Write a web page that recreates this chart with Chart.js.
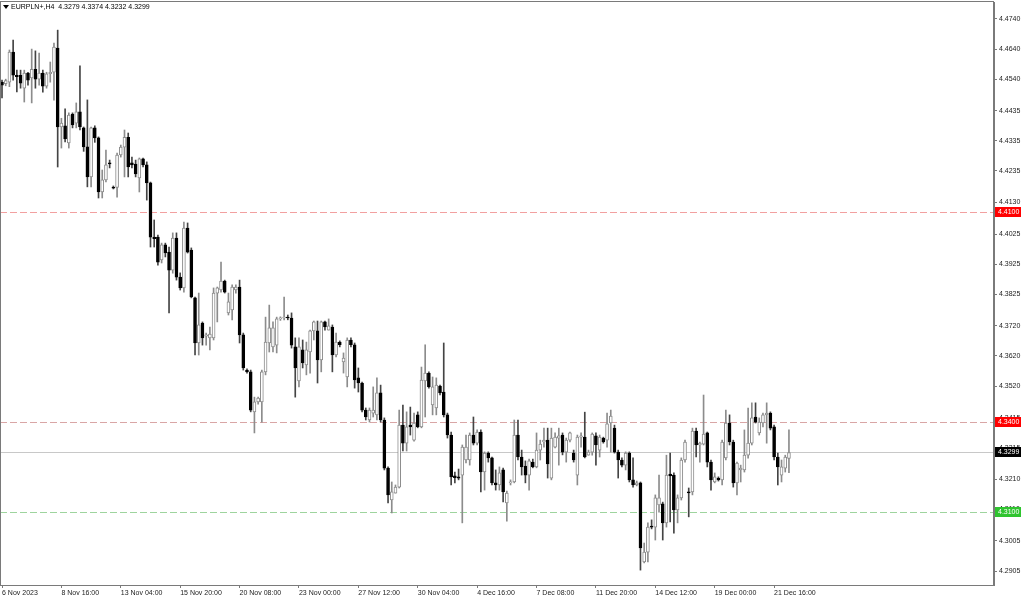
<!DOCTYPE html>
<html lang="en">
<head>
<meta charset="UTF-8" />
<title>EURPLN+,H4</title>
<style>
  html, body { margin: 0; padding: 0; background: #fff; }
  #wrap { width: 1024px; height: 599px; }
</style>
</head>
<body>
<div id="wrap"><canvas id="chart" width="1024" height="599"></canvas></div>

<script src="https://cdn.jsdelivr.net/npm/chart.js@4"></script>
<script>
// EURPLN+ H4 candles (oldest first)
const opens = [
  4.4530, 4.4525, 4.4530, 4.4630, 4.4553, 4.4553, 4.4510, 4.4560, 4.4544, 4.4573,
  4.4540, 4.4560, 4.4517, 4.4558, 4.4563, 4.4643, 4.4381, 4.4385, 4.4328, 4.4424,
  4.4394, 4.4431, 4.4378, 4.4315, 4.4215, 4.4378, 4.4345, 4.4165, 4.4205, 4.4262,
  4.4180, 4.4180, 4.4288, 4.4314, 4.4347, 4.4262, 4.4258, 4.4212, 4.4275, 4.4255,
  4.4195, 4.4015, 4.4015, 4.3939, 4.3989, 4.3965, 4.3905, 4.4012, 4.3882, 4.3846,
  4.4045, 4.3972, 4.3813, 4.3663, 4.3729, 4.3686, 4.3680, 4.3680, 4.3829, 4.3839,
  4.3869, 4.3763, 4.3773, 4.3839, 4.3849, 4.3690, 4.3573, 4.3567, 4.3434, 4.3467,
  4.3467, 4.3567, 4.3663, 4.3650, 4.3656, 4.3743, 4.3746, 4.3749, 4.3746, 4.3650,
  4.3537, 4.3640, 4.3590, 4.3633, 4.3703, 4.3703, 4.3607, 4.3733, 4.3706, 4.3716,
  4.3623, 4.3666, 4.3600, 4.3550, 4.3673, 4.3657, 4.3547, 4.3530, 4.3440, 4.3407,
  4.3430, 4.3424, 4.3497, 4.3407, 4.3247, 4.3141, 4.3164, 4.3184, 4.3390, 4.3330,
  4.3390, 4.3340, 4.3424, 4.3384, 4.3537, 4.3563, 4.3457, 4.3447, 4.3520, 4.3500,
  4.3424, 4.3357, 4.3221, 4.3218, 4.3224, 4.3274, 4.3274, 4.3357, 4.3330, 4.3367,
  4.3234, 4.3297, 4.3281, 4.3198, 4.3191, 4.3241, 4.3131, 4.3198, 4.3201, 4.3357,
  4.3284, 4.3254, 4.3224, 4.3267, 4.3251, 4.3307, 4.3334, 4.3340, 4.3214, 4.3317,
  4.3347, 4.3357, 4.3300, 4.3340, 4.3297, 4.3224, 4.3350, 4.3350, 4.3290, 4.3300,
  4.3354, 4.3307, 4.3347, 4.3340, 4.3397, 4.3380, 4.3300, 4.3274, 4.3257, 4.3297,
  4.3208, 4.3191, 4.3198, 4.2935, 4.2968, 4.3054, 4.3051, 4.3125, 4.3128, 4.3065,
  4.3227, 4.3224, 4.3108, 4.3148, 4.3274, 4.3168, 4.3168, 4.3370, 4.3324, 4.3327,
  4.3364, 4.3267, 4.3201, 4.3214, 4.3208, 4.3281, 4.3397, 4.3334, 4.3198, 4.3241,
  4.3241, 4.3290, 4.3330, 4.3417, 4.3364, 4.3397, 4.3424, 4.3430, 4.3384, 4.3284,
  4.3224, 4.3247, 4.3279
];
const highs = [
  4.4537, 4.4540, 4.4637, 4.4670, 4.4570, 4.4570, 4.4570, 4.4563, 4.4640, 4.4634,
  4.4627, 4.4570, 4.4563, 4.4597, 4.4660, 4.4703, 4.4410, 4.4441, 4.4428, 4.4428,
  4.4461, 4.4584, 4.4381, 4.4471, 4.4381, 4.4385, 4.4348, 4.4238, 4.4304, 4.4271,
  4.4185, 4.4294, 4.4321, 4.4371, 4.4361, 4.4281, 4.4271, 4.4278, 4.4278, 4.4265,
  4.4198, 4.4072, 4.4022, 4.3995, 4.3995, 4.3982, 4.4029, 4.4029, 4.3896, 4.4065,
  4.4062, 4.3979, 4.3816, 4.3829, 4.3733, 4.3696, 4.3716, 4.3846, 4.3849, 4.3932,
  4.3872, 4.3829, 4.3856, 4.3856, 4.3872, 4.3696, 4.3577, 4.3573, 4.3483, 4.3483,
  4.3573, 4.3749, 4.3789, 4.3733, 4.3749, 4.3750, 4.3816, 4.3756, 4.3763, 4.3680,
  4.3680, 4.3673, 4.3666, 4.3706, 4.3736, 4.3736, 4.3736, 4.3736, 4.3743, 4.3723,
  4.3696, 4.3670, 4.3630, 4.3680, 4.3680, 4.3663, 4.3580, 4.3533, 4.3447, 4.3447,
  4.3517, 4.3547, 4.3523, 4.3414, 4.3251, 4.3201, 4.3191, 4.3440, 4.3457, 4.3434,
  4.3450, 4.3430, 4.3434, 4.3583, 4.3657, 4.3567, 4.3550, 4.3547, 4.3523, 4.3663,
  4.3430, 4.3367, 4.3234, 4.3244, 4.3324, 4.3357, 4.3364, 4.3417, 4.3374, 4.3374,
  4.3301, 4.3301, 4.3284, 4.3241, 4.3251, 4.3247, 4.3171, 4.3208, 4.3407, 4.3407,
  4.3307, 4.3271, 4.3277, 4.3277, 4.3364, 4.3340, 4.3380, 4.3380, 4.3380, 4.3364,
  4.3380, 4.3364, 4.3347, 4.3367, 4.3307, 4.3357, 4.3364, 4.3433, 4.3307, 4.3364,
  4.3364, 4.3357, 4.3350, 4.3430, 4.3440, 4.3390, 4.3307, 4.3281, 4.3301, 4.3301,
  4.3281, 4.3204, 4.3201, 4.2998, 4.3065, 4.3075, 4.3158, 4.3224, 4.3134, 4.3290,
  4.3297, 4.3231, 4.3158, 4.3281, 4.3340, 4.3181, 4.3380, 4.3380, 4.3334, 4.3490,
  4.3367, 4.3274, 4.3231, 4.3218, 4.3340, 4.3440, 4.3424, 4.3340, 4.3267, 4.3257,
  4.3374, 4.3447, 4.3464, 4.3464, 4.3414, 4.3430, 4.3464, 4.3434, 4.3390, 4.3297,
  4.3274, 4.3290, 4.3374
];
const lows = [
  4.4478, 4.4518, 4.4515, 4.4537, 4.4498, 4.4510, 4.4464, 4.4520, 4.4461, 4.4510,
  4.4520, 4.4497, 4.4510, 4.4530, 4.4470, 4.4248, 4.4311, 4.4331, 4.4311, 4.4378,
  4.4378, 4.4371, 4.4300, 4.4182, 4.4182, 4.4330, 4.4145, 4.4145, 4.4198, 4.4245,
  4.4175, 4.4148, 4.4281, 4.4215, 4.4215, 4.4245, 4.4215, 4.4165, 4.4248, 4.4138,
  4.3982, 4.3982, 4.3922, 4.3929, 4.3949, 4.3763, 4.3895, 4.3872, 4.3839, 4.3832,
  4.3962, 4.3813, 4.3623, 4.3623, 4.3656, 4.3656, 4.3640, 4.3673, 4.3733, 4.3832,
  4.3829, 4.3756, 4.3740, 4.3829, 4.3663, 4.3573, 4.3563, 4.3434, 4.3364, 4.3460,
  4.3400, 4.3557, 4.3633, 4.3633, 4.3630, 4.3738, 4.3740, 4.3740, 4.3646, 4.3483,
  4.3517, 4.3580, 4.3557, 4.3563, 4.3673, 4.3530, 4.3567, 4.3706, 4.3706, 4.3567,
  4.3617, 4.3650, 4.3563, 4.3517, 4.3650, 4.3513, 4.3500, 4.3434, 4.3407, 4.3400,
  4.3417, 4.3407, 4.3400, 4.3241, 4.3131, 4.3098, 4.3164, 4.3181, 4.3304, 4.3304,
  4.3357, 4.3337, 4.3381, 4.3381, 4.3417, 4.3513, 4.3424, 4.3424, 4.3490, 4.3417,
  4.3347, 4.3191, 4.3198, 4.3208, 4.3065, 4.3264, 4.3257, 4.3324, 4.3324, 4.3168,
  4.3174, 4.3267, 4.3191, 4.3174, 4.3174, 4.3135, 4.3071, 4.3191, 4.3198, 4.3274,
  4.3224, 4.3198, 4.3174, 4.3248, 4.3248, 4.3274, 4.3317, 4.3214, 4.3208, 4.3314,
  4.3257, 4.3291, 4.3267, 4.3334, 4.3267, 4.3191, 4.3317, 4.3281, 4.3290, 4.3290,
  4.3257, 4.3284, 4.3330, 4.3317, 4.3300, 4.3297, 4.3214, 4.3251, 4.3241, 4.3201,
  4.3184, 4.3188, 4.2908, 4.2932, 4.2935, 4.3045, 4.3008, 4.3101, 4.3008, 4.3051,
  4.3068, 4.3031, 4.3065, 4.3141, 4.3267, 4.3085, 4.3158, 4.3284, 4.3267, 4.3324,
  4.3251, 4.3174, 4.3198, 4.3204, 4.3191, 4.3274, 4.3324, 4.3184, 4.3158, 4.3201,
  4.3234, 4.3280, 4.3324, 4.3397, 4.3357, 4.3384, 4.3330, 4.3374, 4.3274, 4.3191,
  4.3201, 4.3234, 4.3232
];
const closes = [
  4.4520, 4.4535, 4.4630, 4.4553, 4.4548, 4.4527, 4.4560, 4.4537, 4.4573, 4.4540,
  4.4560, 4.4517, 4.4558, 4.4563, 4.4647, 4.4381, 4.4394, 4.4341, 4.4421, 4.4388,
  4.4431, 4.4381, 4.4315, 4.4215, 4.4378, 4.4345, 4.4165, 4.4205, 4.4255, 4.4258,
  4.4178, 4.4288, 4.4314, 4.4347, 4.4248, 4.4255, 4.4225, 4.4275, 4.4255, 4.4195,
  4.4015, 4.4010, 4.3932, 4.3989, 4.3962, 4.3905, 4.4012, 4.3882, 4.3846, 4.4045,
  4.3965, 4.3816, 4.3663, 4.3723, 4.3680, 4.3690, 4.3693, 4.3829, 4.3846, 4.3869,
  4.3832, 4.3800, 4.3849, 4.3849, 4.3690, 4.3580, 4.3567, 4.3440, 4.3467, 4.3480,
  4.3567, 4.3666, 4.3713, 4.3713, 4.3743, 4.3746, 4.3749, 4.3746, 4.3656, 4.3580,
  4.3650, 4.3597, 4.3640, 4.3703, 4.3733, 4.3607, 4.3733, 4.3716, 4.3720, 4.3623,
  4.3666, 4.3657, 4.3613, 4.3673, 4.3657, 4.3540, 4.3530, 4.3440, 4.3417, 4.3440,
  4.3440, 4.3497, 4.3407, 4.3247, 4.3158, 4.3168, 4.3184, 4.3390, 4.3330, 4.3384,
  4.3384, 4.3397, 4.3384, 4.3540, 4.3563, 4.3517, 4.3517, 4.3523, 4.3497, 4.3424,
  4.3357, 4.3218, 4.3215, 4.3214, 4.3317, 4.3317, 4.3357, 4.3330, 4.3367, 4.3234,
  4.3297, 4.3281, 4.3198, 4.3191, 4.3231, 4.3168, 4.3164, 4.3201, 4.3357, 4.3284,
  4.3251, 4.3224, 4.3271, 4.3251, 4.3307, 4.3327, 4.3340, 4.3261, 4.3347, 4.3350,
  4.3354, 4.3300, 4.3340, 4.3364, 4.3274, 4.3350, 4.3354, 4.3284, 4.3300, 4.3360,
  4.3324, 4.3350, 4.3334, 4.3394, 4.3420, 4.3300, 4.3274, 4.3257, 4.3297, 4.3208,
  4.3191, 4.3198, 4.2982, 4.2968, 4.3051, 4.3051, 4.3148, 4.3148, 4.3065, 4.3224,
  4.3221, 4.3108, 4.3148, 4.3274, 4.3334, 4.3165, 4.3370, 4.3324, 4.3330, 4.3360,
  4.3267, 4.3208, 4.3218, 4.3208, 4.3334, 4.3397, 4.3334, 4.3198, 4.3264, 4.3247,
  4.3290, 4.3330, 4.3414, 4.3400, 4.3400, 4.3424, 4.3430, 4.3380, 4.3284, 4.3251,
  4.3251, 4.3284, 4.3299
];

// time axis labels sit on every 16th bar
const xTickIndex = [0, 16, 32, 48, 64, 80, 96, 112, 128, 144, 160, 176, 192, 208];
const xTickLabels = [
  '6 Nov 2023', '8 Nov 16:00', '13 Nov 04:00', '15 Nov 20:00', '20 Nov 08:00',
  '23 Nov 00:00', '27 Nov 12:00', '30 Nov 04:00', '4 Dec 16:00', '7 Dec 08:00',
  '11 Dec 20:00', '14 Dec 12:00', '19 Dec 00:00', '21 Dec 16:00'
];
const yTicks = [
  4.4740, 4.4640, 4.4540, 4.4435, 4.4335, 4.4235, 4.4130, 4.4025, 4.3925, 4.3825,
  4.3720, 4.3620, 4.3520, 4.3415, 4.3315, 4.3210, 4.3110, 4.3005, 4.2905
];

// horizontal levels drawn on the chart
const levelPrices = [4.4100, 4.3400, 4.3100];
const levelColors = ['#f2a0a0', '#d9a6a6', '#9ed49e'];
const levelTagColors = ['#ff0000', '#ff0000', '#2fc42f'];
const lastPrice = 4.3299;

const isBull = opens.map((o, i) => closes[i] >= o);
const font7 = '7px "Liberation Sans", Arial, sans-serif';

const mtOverlay = {
  id: 'mtOverlay',
  beforeDatasetsDraw(chart) {
    const { ctx, chartArea: a, scales: { y } } = chart;
    ctx.save();
    ctx.lineWidth = 1;
    // last price line
    let py = Math.round(y.getPixelForValue(lastPrice)) + 0.5;
    ctx.strokeStyle = '#c8c8c8';
    ctx.beginPath(); ctx.moveTo(a.left, py); ctx.lineTo(a.right, py); ctx.stroke();
    // dashed levels
    ctx.setLineDash([7, 3]);
    levelPrices.forEach((p, k) => {
      const ly = Math.round(y.getPixelForValue(p)) + 0.5;
      ctx.strokeStyle = levelColors[k];
      ctx.beginPath(); ctx.moveTo(a.left, ly); ctx.lineTo(a.right, ly); ctx.stroke();
    });
    ctx.restore();
  },
  afterDraw(chart) {
    const { ctx, chartArea: a, scales: { y } } = chart;
    ctx.save();
    // frame
    ctx.strokeStyle = '#7a7a7a';
    ctx.lineWidth = 1;
    ctx.strokeRect(a.left + 0.5, a.top - 0.5, a.right - a.left - 1, a.bottom - a.top + 1);

    // price tags on the right axis
    const tag = (price, bg) => {
      const ty = Math.round(y.getPixelForValue(price));
      ctx.fillStyle = bg;
      ctx.fillRect(a.right + 1, ty - 5, 26, 10);
      ctx.fillStyle = '#fff';
      ctx.font = font7;
      ctx.textAlign = 'left';
      ctx.textBaseline = 'middle';
      ctx.fillText(price.toFixed(4), a.right + 4, ty + 0.5);
    };
    levelPrices.forEach((p, k) => tag(p, levelTagColors[k]));
    tag(lastPrice, '#000');

    // header
    ctx.fillStyle = '#000';
    ctx.beginPath();
    ctx.moveTo(3, 5); ctx.lineTo(9, 5); ctx.lineTo(6, 9); ctx.closePath(); ctx.fill();
    ctx.font = font7;
    ctx.textAlign = 'left';
    ctx.textBaseline = 'middle';
    ctx.fillText('EURPLN+,H4  ' + [opens[212], highs[212], lows[212], closes[212]].map(v => v.toFixed(4)).join(' '), 11, 7.5);
    ctx.restore();
  }
};

new Chart(document.getElementById('chart'), {
  type: 'bar',
  data: {
    datasets: [
      {
        label: 'body',
        order: 0,
        grouped: false,
        data: opens.map((o, i) => ({ x: i, y: [o, closes[i]] })),
        backgroundColor: isBull.map(b => b ? '#ffffff' : '#000000'),
        borderColor: isBull.map(b => b ? '#8c8c8c' : '#000000'),
        borderWidth: 1,
        borderSkipped: false,
        barThickness: 3,
        minBarLength: 1
      },
      {
        label: 'wick',
        order: 1,
        grouped: false,
        data: lows.map((l, i) => ({ x: i, y: [l, highs[i]] })),
        backgroundColor: isBull.map(b => b ? '#8c8c8c' : '#444444'),
        borderWidth: 0,
        barThickness: 1
      }
    ]
  },
  options: {
    responsive: false,
    animation: false,
    events: [],
    layout: { padding: { top: 2, left: 0, right: 0, bottom: 0 } },
    plugins: { legend: { display: false }, tooltip: { enabled: false } },
    scales: {
      x: {
        type: 'linear',
        min: -0.54,
        max: 267.24,
        offset: false,
        grid: { drawOnChartArea: false, offset: false, tickLength: 3, color: '#7a7a7a' },
        border: { display: false },
        ticks: {
          autoSkip: false,
          maxRotation: 0,
          align: 'start',
          padding: 1,
          color: '#222',
          font: { family: '"Liberation Sans", Arial, sans-serif', size: 7 },
          callback: (v, i) => xTickLabels[i]
        },
        afterBuildTicks: s => { s.ticks = xTickIndex.map(v => ({ value: v })); },
        afterFit: s => { s.height = 14; s.paddingLeft = 0; s.paddingRight = 0; }
      },
      y: {
        position: 'right',
        bounds: 'data',
        min: 4.28585,
        max: 4.47965,
        grid: { drawOnChartArea: false, tickLength: 3, color: '#7a7a7a' },
        border: { display: true, color: '#7a7a7a' },
        ticks: {
          padding: 2,
          color: '#222',
          font: { family: '"Liberation Sans", Arial, sans-serif', size: 7 },
          callback: v => v.toFixed(4)
        },
        afterBuildTicks: s => { s.ticks = yTicks.map(v => ({ value: v })); },
        afterFit: s => { s.width = 30; s.paddingTop = 0; s.paddingBottom = 0; }
      }
    }
  },
  plugins: [mtOverlay]
});
</script>
</body>
</html>
